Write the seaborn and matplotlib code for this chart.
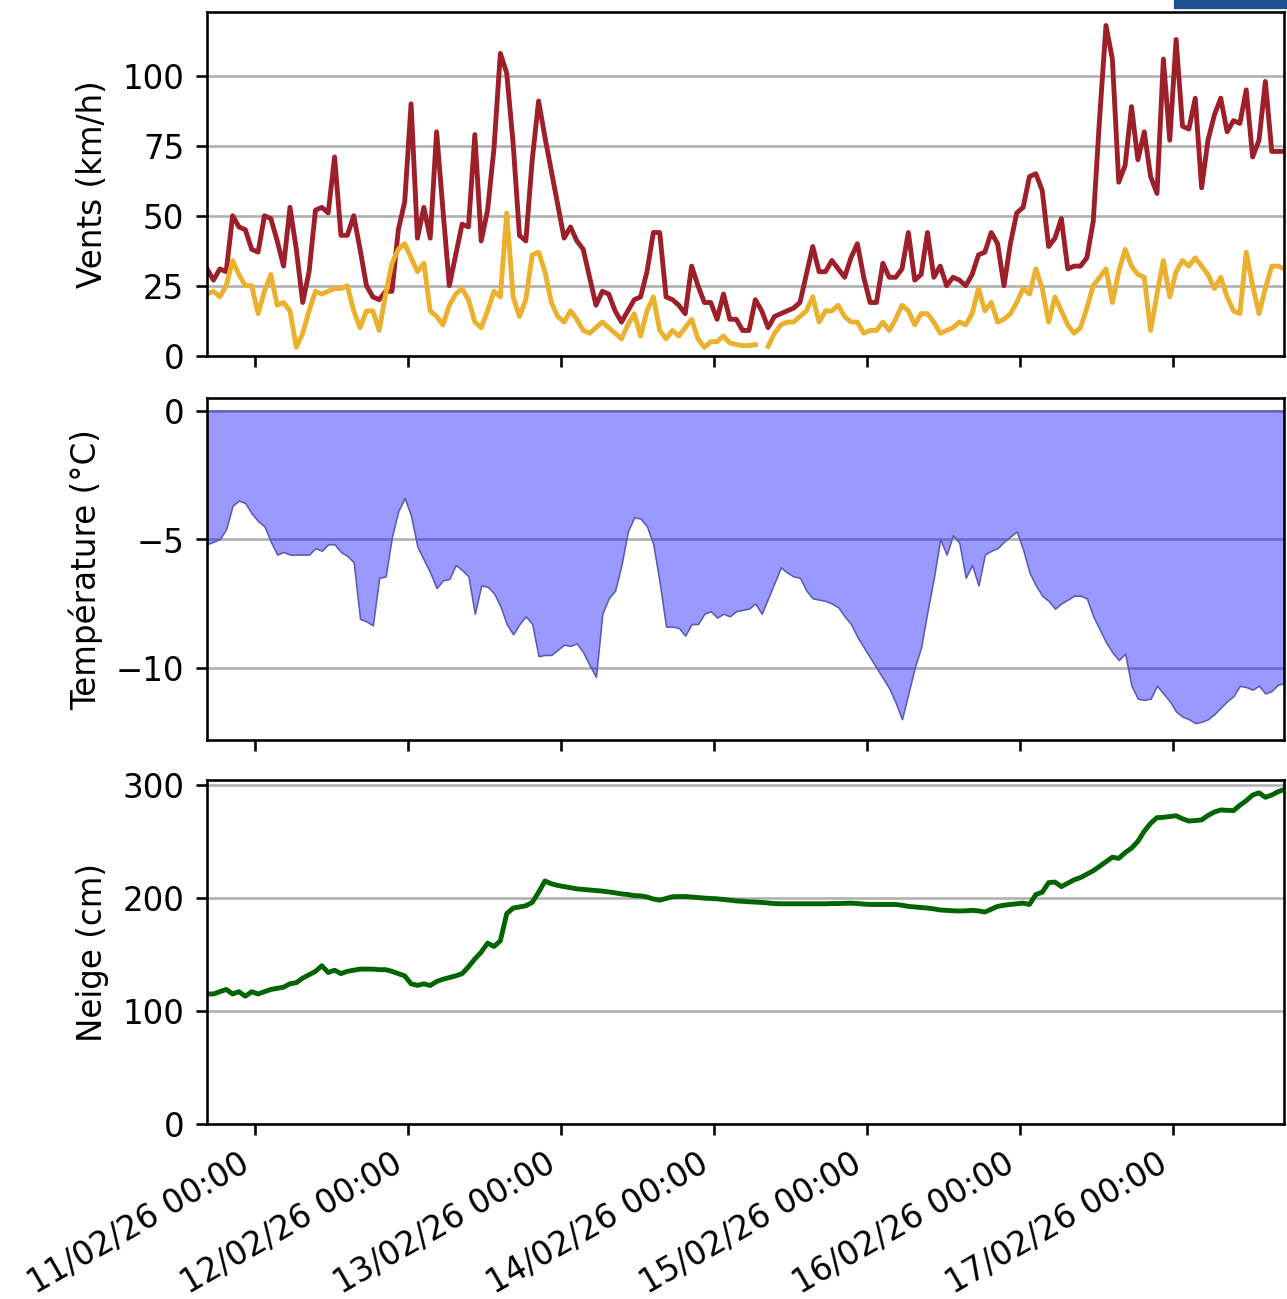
import numpy as np
import pandas as pd
import matplotlib
matplotlib.use("Agg")
import matplotlib.pyplot as plt
import matplotlib.dates as mdates
from matplotlib.patches import Rectangle
import seaborn as sns

# Hourly station readings, 10/02/26 16:30 -> 17/02/26 17:30
START = "2026-02-10 16:30"
N_HOURS = 170

# Wind gusts (km/h)
gust_kmh = [
    31, 27, 31, 30, 50, 46, 45, 38, 37, 50, 49, 41, 32, 53, 38, 19, 30, 52, 53, 51,
    71, 43, 43, 50, 38, 25, 21, 20, 23, 23, 45, 55, 90, 42, 53, 42, 80, 52, 25, 36,
    47, 46, 79, 41, 52, 74, 108, 101, 76, 43, 41, 70, 91, 78, 66, 54, 42, 46, 41, 38,
    28, 18, 23, 22, 16, 12, 16, 20, 21, 30, 44, 44, 21, 20, 18, 15, 32, 25, 19, 19,
    13, 22, 13, 13, 9, 9, 20, 16, 10, 14, 15, 16, 17, 19, 29, 39, 30, 30, 34, 31,
    28, 35, 40, 28, 19, 19, 33, 28, 28, 31, 44, 27, 29, 44, 28, 32, 25, 28, 27, 25,
    29, 36, 37, 44, 40, 25, 40, 51, 53, 64, 65, 59, 39, 42, 49, 31, 32, 32, 35, 48,
    85, 118, 106, 62, 68, 89, 70, 80, 64, 58, 106, 77, 113, 82, 81, 92, 60, 77, 86, 92,
    80, 84, 83, 95, 71, 77, 98, 73, 73, 73,
]

# Mean wind (km/h); one missing reading on 15/02
mean_kmh = [
    22, 23, 21, 25, 34, 29, 25, 25, 15, 23, 29, 18, 19, 16, 3, 8, 16, 23, 22, 23,
    24, 24, 25, 16, 10, 16, 16, 9, 22, 33, 38, 40, 35, 30, 33, 16, 14, 11, 18, 22,
    24, 20, 12, 10, 16, 23, 21, 51, 21, 14, 20, 36, 37, 30, 19, 14, 12, 16, 13, 9,
    8, 10, 12, 10, 8, 6, 11, 15, 7, 16, 21, 9, 6, 9, 7, 10, 13, 6, 3, 5,
    5, 7, 4.5, 4, 3.6, 3.6, 3.9, np.nan, 3.3, 8, 11, 12, 12, 14, 16, 21, 12, 16, 16, 18,
    14, 12, 12, 8, 9, 9, 12, 9, 13, 18, 16, 11, 15, 15, 12, 8, 9, 10, 12, 11,
    15, 24, 16, 19, 12, 13, 15, 19, 24, 22, 31, 24, 12, 21, 16, 11, 8, 10, 17, 25,
    28, 31, 19, 30, 38, 32, 29, 28, 9, 22, 34, 21, 30, 34, 32, 35, 32, 29, 24, 28,
    21, 16, 15, 37, 25, 15, 24, 32, 32, 31,
]

# Air temperature (°C)
temp_c = [
    -5.2, -5.1, -5.0, -4.6, -3.7, -3.5, -3.6, -4.0, -4.3, -4.5, -5.1, -5.6, -5.5, -5.6, -5.6,
    -5.6, -5.6, -5.35, -5.45, -5.2, -5.2, -5.5, -5.65, -5.9, -8.1, -8.2, -8.35, -6.5, -6.45, -4.9,
    -3.9, -3.4, -4.1, -5.3, -5.8, -6.3, -6.9, -6.6, -6.55, -6.0, -6.2, -6.45, -7.9, -6.8, -6.85,
    -7.1, -7.6, -8.3, -8.7, -8.3, -8.0, -8.3, -9.55, -9.5, -9.5, -9.3, -9.1, -9.15, -9.05, -9.4,
    -9.9, -10.35, -7.9, -7.3, -7.0, -6.0, -4.7, -4.15, -4.2, -4.5, -5.2, -6.7, -8.4, -8.4, -8.45,
    -8.75, -8.3, -8.3, -7.9, -7.8, -8.05, -7.9, -8.0, -7.8, -7.75, -7.7, -7.5, -7.9, -7.3, -6.7,
    -6.1, -6.3, -6.45, -6.5, -7.0, -7.3, -7.35, -7.4, -7.5, -7.65, -8.0, -8.3, -8.8, -9.2, -9.6,
    -10.0, -10.4, -10.8, -11.35, -12.0, -11.0, -10.0, -9.2, -7.8, -6.5, -5.0, -5.6, -4.85, -5.15, -6.5,
    -6.0, -6.8, -5.6, -5.45, -5.35, -5.1, -4.9, -4.7, -5.4, -6.3, -6.8, -7.2, -7.4, -7.7, -7.5,
    -7.35, -7.2, -7.2, -7.3, -8.0, -8.5, -9.0, -9.4, -9.7, -9.45, -10.7, -11.2, -11.25, -11.2, -10.7,
    -11.0, -11.3, -11.7, -11.9, -12.0, -12.15, -12.1, -12.0, -11.8, -11.55, -11.3, -11.1, -10.7, -10.75, -10.85,
    -10.7, -11.0, -10.9, -10.65, -10.6,
]

# Snow depth (cm)
snow_cm = [
    115, 115, 117, 119, 115, 117, 113, 117, 115, 117, 119, 120, 121, 124, 125, 129, 132, 135, 140, 134,
    136, 133, 135, 136, 137, 137, 137, 136.5, 136.5, 135, 133, 131, 124, 122.6, 124, 122.5, 126, 128, 129.5, 131,
    133, 139, 146, 152, 160, 157, 162, 186, 191, 192, 193, 196, 205, 215, 212.5, 211, 210, 209, 208, 207.5,
    207, 206.5, 206, 205.3, 204.5, 203.5, 203, 202, 201.8, 200.8, 199, 198, 199.5, 201, 201.2, 201.2, 200.8, 200.3, 199.8, 199.5,
    199.2, 198.6, 198, 197.3, 197, 196.6, 196.3, 196, 195.5, 195, 194.8, 194.8, 194.8, 194.8, 194.8, 194.8, 194.8, 194.8, 195, 195,
    195.2, 195.4, 195, 194.5, 194.2, 194.2, 194.2, 194.2, 194.2, 193.5, 192.5, 192, 191.5, 191, 190.3, 189.3, 189, 188.6, 188.4, 188.6,
    189, 188.5, 187.5, 190, 192.5, 193.5, 194.2, 194.8, 195.4, 194.2, 203, 205, 213.5, 214, 210, 213, 216, 218, 221, 224,
    228, 232, 236, 235, 240, 244, 250, 259, 266, 271, 271.3, 272, 272.7, 270, 268, 268.5, 269, 273, 276, 277.8,
    277.5, 277.2, 282, 286, 291, 293, 289, 291, 294, 296,
]

times = pd.date_range(START, periods=N_HOURS, freq="h")
df = pd.DataFrame({
    "time": times,
    "gust": gust_kmh,
    "mean": mean_kmh,
    "temp": temp_c,
    "snow": snow_cm,
})
# split the mean-wind series where a reading is missing so the line shows a gap
df["mean_seg"] = df["mean"].isna().cumsum()

DPI = 234
plt.rcParams.update({
    "font.family": "DejaVu Sans",
    "font.size": 10,
    "axes.linewidth": 0.8,
    "axes.edgecolor": "black",
    "grid.color": "#b0b0b0",
    "grid.linewidth": 0.8,
    "xtick.major.size": 3.5,
    "ytick.major.size": 3.5,
})

fig = plt.figure(figsize=(1287.5 / DPI, 1299.5 / DPI), dpi=DPI)
W, H = 1287.0, 1299.0
left = 207 / W
width = (1284 - 207) / W


def box(top_px, bottom_px):
    return [left, 1 - bottom_px / H, width, (bottom_px - top_px) / H]


ax_wind = fig.add_axes(box(12, 356))
ax_temp = fig.add_axes(box(398, 740), sharex=ax_wind)
ax_snow = fig.add_axes(box(780, 1124), sharex=ax_wind)

GUST_COLOR = "#9c1f2a"
MEAN_COLOR = "#ebb02d"

# Wind panel
sns.lineplot(data=df, x="time", y="gust", ax=ax_wind, color=GUST_COLOR, linewidth=1.5)
sns.lineplot(data=df.dropna(subset=["mean"]), x="time", y="mean", units="mean_seg",
             estimator=None, ax=ax_wind, color=MEAN_COLOR, linewidth=1.5)
ax_wind.set_ylim(0, 123)
ax_wind.set_yticks([0, 25, 50, 75, 100])
ax_wind.set_ylabel("Vents (km/h)")

# Temperature panel: area between the curve and 0 °C
ax_temp.fill_between(df["time"], df["temp"], 0, facecolor=(0, 0, 1, 0.4),
                     edgecolor="#5c5cb4", linewidth=0.5)
ax_temp.set_ylim(-12.8, 0.5)
ax_temp.set_yticks([-10, -5, 0])
ax_temp.set_ylabel("Température (°C)")

# Snow depth panel
sns.lineplot(data=df, x="time", y="snow", ax=ax_snow, color="darkgreen", linewidth=1.5)
ax_snow.set_ylim(0, 304.5)
ax_snow.set_yticks([0, 100, 200, 300])
ax_snow.set_ylabel("Neige (cm)")

for ax in (ax_wind, ax_temp, ax_snow):
    ax.grid(axis="y")
    ax.set_axisbelow(True)
    ax.set_xlabel("")
    for s in ax.spines.values():
        s.set_visible(True)

ax_wind.set_xlim(df["time"].iloc[0], df["time"].iloc[-1])
ax_snow.xaxis.set_major_locator(mdates.DayLocator())
ax_snow.xaxis.set_major_formatter(mdates.DateFormatter("%d/%m/%y %H:%M"))
ax_wind.tick_params(axis="x", labelbottom=False)
ax_temp.tick_params(axis="x", labelbottom=False)
plt.setp(ax_snow.get_xticklabels(), rotation=30, ha="right", rotation_mode="default")

# header badge in the top-right corner
fig.patches.append(Rectangle((1175 / W, 1 - 7 / H), (W - 1175) / W, 7 / H,
                             transform=fig.transFigure, color="#1d4f91", zorder=5))

fig.savefig("out.png", dpi=DPI)
